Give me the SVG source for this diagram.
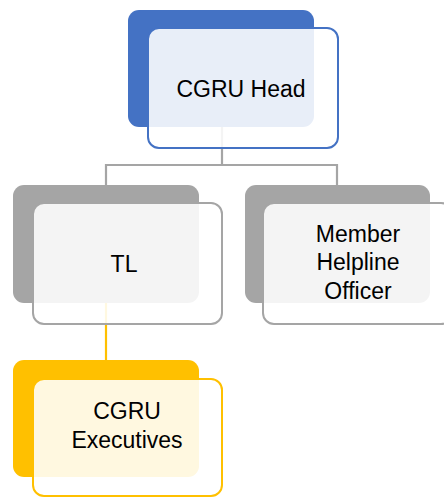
<svg xmlns="http://www.w3.org/2000/svg" width="444" height="497" viewBox="0 0 444 497">
<style>
.t{font-family:"Liberation Sans",Arial,sans-serif;font-size:23px;fill:#000;text-anchor:middle}
.fr{fill:#fff;fill-opacity:0.88;stroke-width:2}
.c{fill:none;stroke-width:2.2}
</style>
<rect width="444" height="497" fill="#fff"/>
<g id="connectors">
<path class="c" stroke="#A5A5A5" d="M222 127V165M106 185V165H337V185"/>
<path class="c" stroke="#FFC000" d="M106 303V360"/>
</g>
<g id="cgru-head">
<rect x="128" y="10" width="186" height="117" rx="11" fill="#4472C4"/>
<rect class="fr" x="148" y="28" width="190" height="120" rx="11" stroke="#4472C4"/>
<text class="t" x="241" y="97">CGRU Head</text>
</g>
<g id="tl">
<rect x="13" y="185" width="186" height="118" rx="11" fill="#A5A5A5"/>
<rect class="fr" x="33" y="203" width="189" height="121" rx="11" stroke="#A5A5A5"/>
<text class="t" x="124" y="272">TL</text>
</g>
<g id="member-helpline-officer">
<rect x="245" y="185" width="185" height="118" rx="11" fill="#A5A5A5"/>
<rect class="fr" x="263" y="203" width="189" height="121" rx="11" stroke="#A5A5A5"/>
<text class="t" x="358" y="242">Member</text>
<text class="t" x="358" y="270">Helpline</text>
<text class="t" x="358" y="299">Officer</text>
</g>
<g id="cgru-executives">
<rect x="13" y="360" width="186" height="117" rx="11" fill="#FFC000"/>
<rect class="fr" x="33" y="379" width="189" height="117" rx="11" stroke="#FFC000"/>
<text class="t" x="127" y="419">CGRU</text>
<text class="t" x="127" y="448">Executives</text>
</g>
</svg>
